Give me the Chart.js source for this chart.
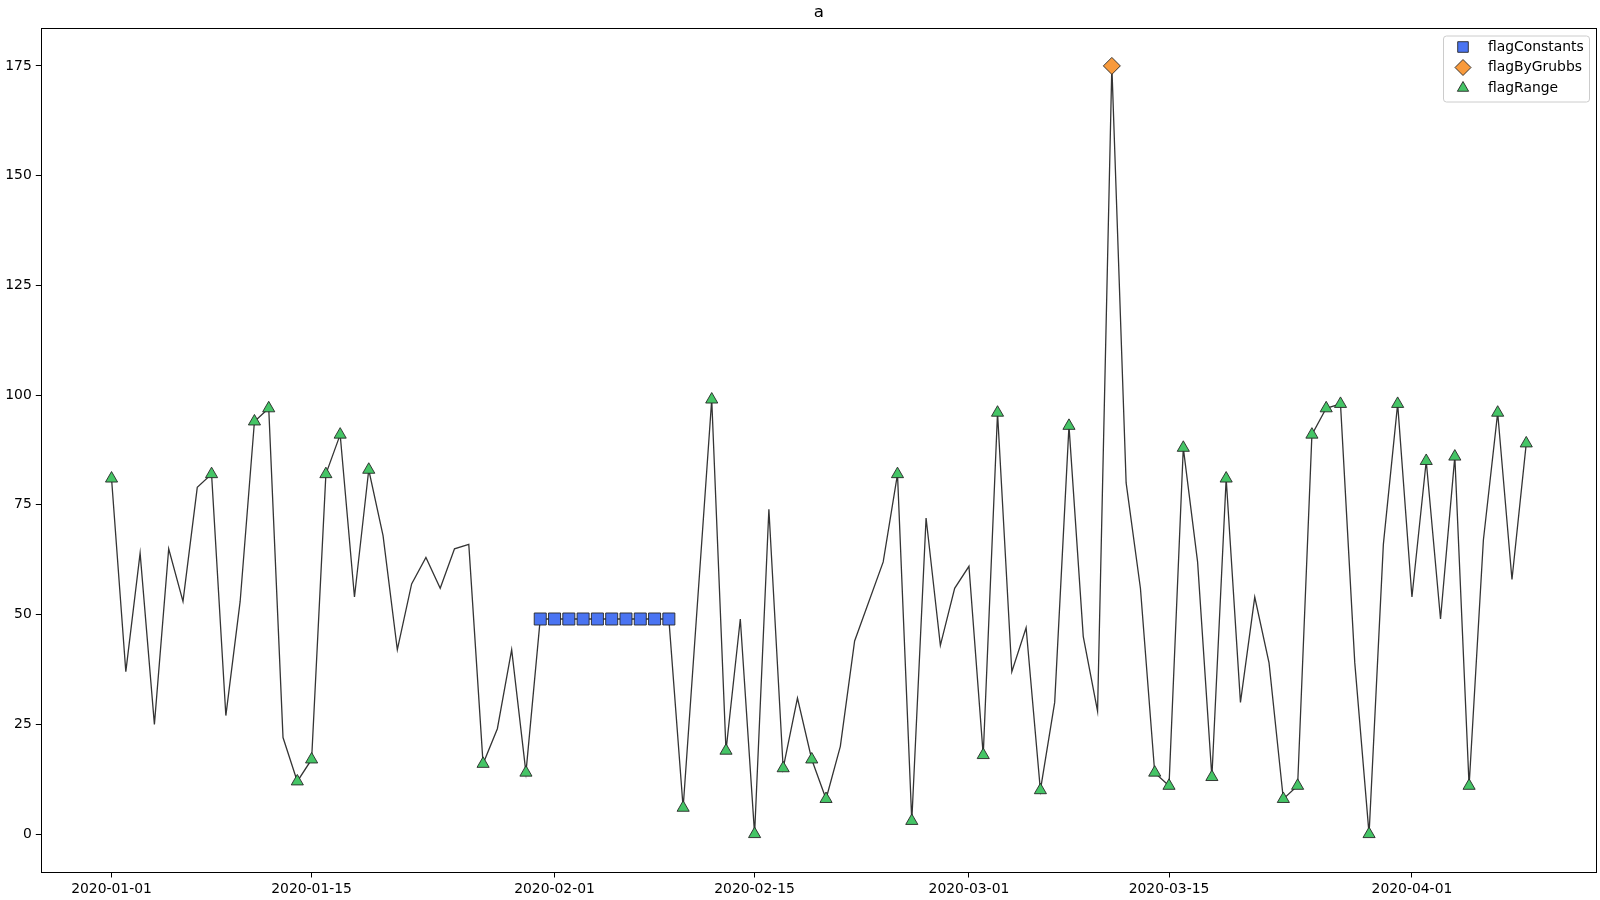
<!DOCTYPE html>
<html>
<head>
<meta charset="utf-8">
<script src="https://cdn.jsdelivr.net/npm/chart.js@4/dist/chart.umd.min.js"></script>
<style>
  html, body { margin: 0; padding: 0; background: #fff; overflow: hidden; }
  #wrap { width: 1600px; height: 900px; position: relative; }
  canvas { display: block; }
</style>
</head>
<body>
<div id="wrap"><canvas id="flagChart"></canvas></div>
<script>
// Series "a" (2020-02-11 and 2020-02-23 are absent from the index)
const dates = [
  '2020-01-01','2020-01-02','2020-01-03','2020-01-04','2020-01-05','2020-01-06','2020-01-07','2020-01-08','2020-01-09','2020-01-10',
  '2020-01-11','2020-01-12','2020-01-13','2020-01-14','2020-01-15','2020-01-16','2020-01-17','2020-01-18','2020-01-19','2020-01-20',
  '2020-01-21','2020-01-22','2020-01-23','2020-01-24','2020-01-25','2020-01-26','2020-01-27','2020-01-28','2020-01-29','2020-01-30',
  '2020-01-31','2020-02-01','2020-02-02','2020-02-03','2020-02-04','2020-02-05','2020-02-06','2020-02-07','2020-02-08','2020-02-09',
  '2020-02-10','2020-02-12','2020-02-13','2020-02-14','2020-02-15','2020-02-16','2020-02-17','2020-02-18','2020-02-19','2020-02-20',
  '2020-02-21','2020-02-22','2020-02-24','2020-02-25','2020-02-26','2020-02-27','2020-02-28','2020-02-29','2020-03-01','2020-03-02',
  '2020-03-03','2020-03-04','2020-03-05','2020-03-06','2020-03-07','2020-03-08','2020-03-09','2020-03-10','2020-03-11','2020-03-12',
  '2020-03-13','2020-03-14','2020-03-15','2020-03-16','2020-03-17','2020-03-18','2020-03-19','2020-03-20','2020-03-21','2020-03-22',
  '2020-03-23','2020-03-24','2020-03-25','2020-03-26','2020-03-27','2020-03-28','2020-03-29','2020-03-30','2020-03-31','2020-04-01',
  '2020-04-02','2020-04-03','2020-04-04','2020-04-05','2020-04-06','2020-04-07','2020-04-08','2020-04-09'
];
const values = [
  81, 37, 64, 25, 65, 53, 79, 82, 27, 53,
  94, 97, 22, 12, 17, 82, 91, 54, 83, 68,
  42, 57, 63, 56, 65, 66, 16, 24, 42, 14,
  49, 49, 49, 49, 49, 49, 49, 49, 49, 49,
  6, 99, 19, 49, 0, 74, 15, 31, 17, 8,
  20, 44, 62, 82, 3, 72, 43, 56, 61, 18,
  96, 37, 47, 10, 30, 93, 45, 28, 175, 80,
  56, 14, 11, 88, 62, 13, 81, 30, 54, 39,
  8, 11, 91, 97, 98, 39, 0, 66, 98, 54,
  85, 49, 86, 11, 67, 96, 58, 89
];

// flagged timestamps
const flagConstants = [
  '2020-01-31','2020-02-01','2020-02-02','2020-02-03','2020-02-04',
  '2020-02-05','2020-02-06','2020-02-07','2020-02-08','2020-02-09'
];
const flagByGrubbs = ['2020-03-11'];
const flagRange = [
  '2020-01-01','2020-01-08','2020-01-11','2020-01-12','2020-01-14','2020-01-15','2020-01-16','2020-01-17','2020-01-19','2020-01-27',
  '2020-01-30','2020-02-10','2020-02-12','2020-02-13','2020-02-15','2020-02-17','2020-02-19','2020-02-20','2020-02-25','2020-02-26',
  '2020-03-02','2020-03-03','2020-03-06','2020-03-08','2020-03-14','2020-03-15','2020-03-16','2020-03-18','2020-03-19','2020-03-23',
  '2020-03-24','2020-03-25','2020-03-26','2020-03-27','2020-03-29','2020-03-31','2020-04-02','2020-04-04','2020-04-05','2020-04-07',
  '2020-04-09'
];

const xTickLabels = ['2020-01-01', '2020-01-15', '2020-02-01', '2020-02-15', '2020-03-01', '2020-03-15', '2020-04-01'];
const yTickValues = [0, 25, 50, 75, 100, 125, 150, 175];
const chartTitle = 'a';

// days since the first timestamp -> linear x axis
const t0 = Date.parse(dates[0]);
const dayOf = d => Math.round((Date.parse(d) - t0) / 86400000);

const series = dates.map((d, i) => ({ x: dayOf(d), y: values[i] }));
const pick = list => list.map(d => ({ x: dayOf(d), y: values[dates.indexOf(d)] }));

const edge = 'rgba(40,40,40,0.9)';
const blue = '#4a74f2';
const orange = '#f89a3c';
const green = '#45c566';

const font = 'DejaVu Sans';

// matplotlib-style frame, title over the axes and legend box
const framePlugin = {
  id: 'frame',
  afterDraw(chart) {
    const { ctx, chartArea: a } = chart;
    ctx.save();
    ctx.strokeStyle = '#000';
    ctx.lineWidth = 1;
    ctx.strokeRect(Math.round(a.left) + 0.5, Math.round(a.top) + 0.5,
      Math.round(a.right - a.left) - 1, Math.round(a.bottom - a.top) - 1);

    ctx.fillStyle = '#000';
    ctx.font = '16.7px "' + font + '"';
    ctx.textAlign = 'center';
    ctx.textBaseline = 'middle';
    ctx.fillText(chartTitle, (a.left + a.right) / 2, 13);

    // legend
    const bx = a.right - 154, by = a.top + 8, bw = 146, bh = 66;
    ctx.fillStyle = 'rgba(255,255,255,0.8)';
    ctx.strokeStyle = '#cccccc';
    ctx.beginPath();
    ctx.roundRect(bx + 0.5, by + 0.5, bw, bh, 3);
    ctx.fill();
    ctx.stroke();

    const items = chart.data.datasets.filter(ds => ds.inLegend);
    items.forEach((ds, i) => {
      const y = by + 11.5 + i * 20.5;
      ctx.fillStyle = ds.backgroundColor;
      ctx.strokeStyle = edge;
      ctx.lineWidth = 1;
      Chart.helpers.drawPoint(ctx, {
        pointStyle: ds.pointStyle, radius: ds.legendRadius, borderWidth: 1, rotation: 0
      }, bx + 20, y);
      ctx.fillStyle = '#000';
      ctx.font = '13.9px "' + font + '"';
      ctx.textBaseline = 'middle';
      ctx.textAlign = 'left';
      ctx.fillText(ds.label, bx + 45, y);
    });
    ctx.restore();
  }
};

const ctx = document.getElementById('flagChart').getContext('2d');
const flagChart = new Chart(ctx, {
  type: 'line',
  data: {
    datasets: [
      {
        label: 'a',
        data: series,
        borderColor: 'rgba(30,30,30,0.9)',
        borderWidth: 1.3,
        pointRadius: 0,
        tension: 0,
        fill: false,
        order: 4
      },
      {
        label: 'flagConstants',
        data: pick(flagConstants),
        showLine: false,
        pointStyle: 'rect',
        pointRadius: 8.5,
        legendRadius: 7.5,
        backgroundColor: blue,
        borderColor: edge,
        pointBorderWidth: 1,
        inLegend: true,
        order: 3
      },
      {
        label: 'flagByGrubbs',
        data: pick(flagByGrubbs),
        showLine: false,
        pointStyle: 'rectRot',
        pointRadius: 8.5,
        legendRadius: 8,
        backgroundColor: orange,
        borderColor: edge,
        pointBorderWidth: 1,
        inLegend: true,
        order: 2
      },
      {
        label: 'flagRange',
        data: pick(flagRange),
        showLine: false,
        pointStyle: 'triangle',
        pointRadius: 7,
        legendRadius: 6.5,
        backgroundColor: green,
        borderColor: edge,
        pointBorderWidth: 1,
        inLegend: true,
        order: 1
      }
    ]
  },
  options: {
    responsive: true,
    maintainAspectRatio: false,
    animation: false,
    layout: { autoPadding: false, padding: { left: 0, right: 3, top: 27.5, bottom: 0 } },
    plugins: {
      legend: { display: false },
      tooltip: { enabled: false },
      title: { display: false }
    },
    scales: {
      x: {
        type: 'linear',
        min: -4.95,
        max: 103.95,
        grid: { display: true, drawOnChartArea: false, drawTicks: true, tickLength: 5, color: '#000' },
        border: { display: false },
        afterBuildTicks: scale => { scale.ticks = xTickLabels.map(d => ({ value: dayOf(d) })); },
        afterFit: scale => {
          scale.height = 27.5;
          scale.paddingLeft = 0;
          scale.paddingRight = 0;
        },
        ticks: {
          autoSkip: false,
          maxRotation: 0,
          padding: 4,
          color: '#000',
          font: { family: font, size: 13.9 },
          callback: v => xTickLabels.find(d => dayOf(d) === v) || ''
        }
      },
      y: {
        min: -8.75,
        max: 183.75,
        grid: { display: true, drawOnChartArea: false, drawTicks: true, tickLength: 5, color: '#000' },
        border: { display: false },
        afterBuildTicks: scale => { scale.ticks = yTickValues.map(v => ({ value: v })); },
        afterFit: scale => { scale.width = 40.8; },
        ticks: {
          padding: 4,
          color: '#000',
          font: { family: font, size: 13.9 }
        }
      }
    }
  },
  plugins: [framePlugin]
});
</script>
</body>
</html>
